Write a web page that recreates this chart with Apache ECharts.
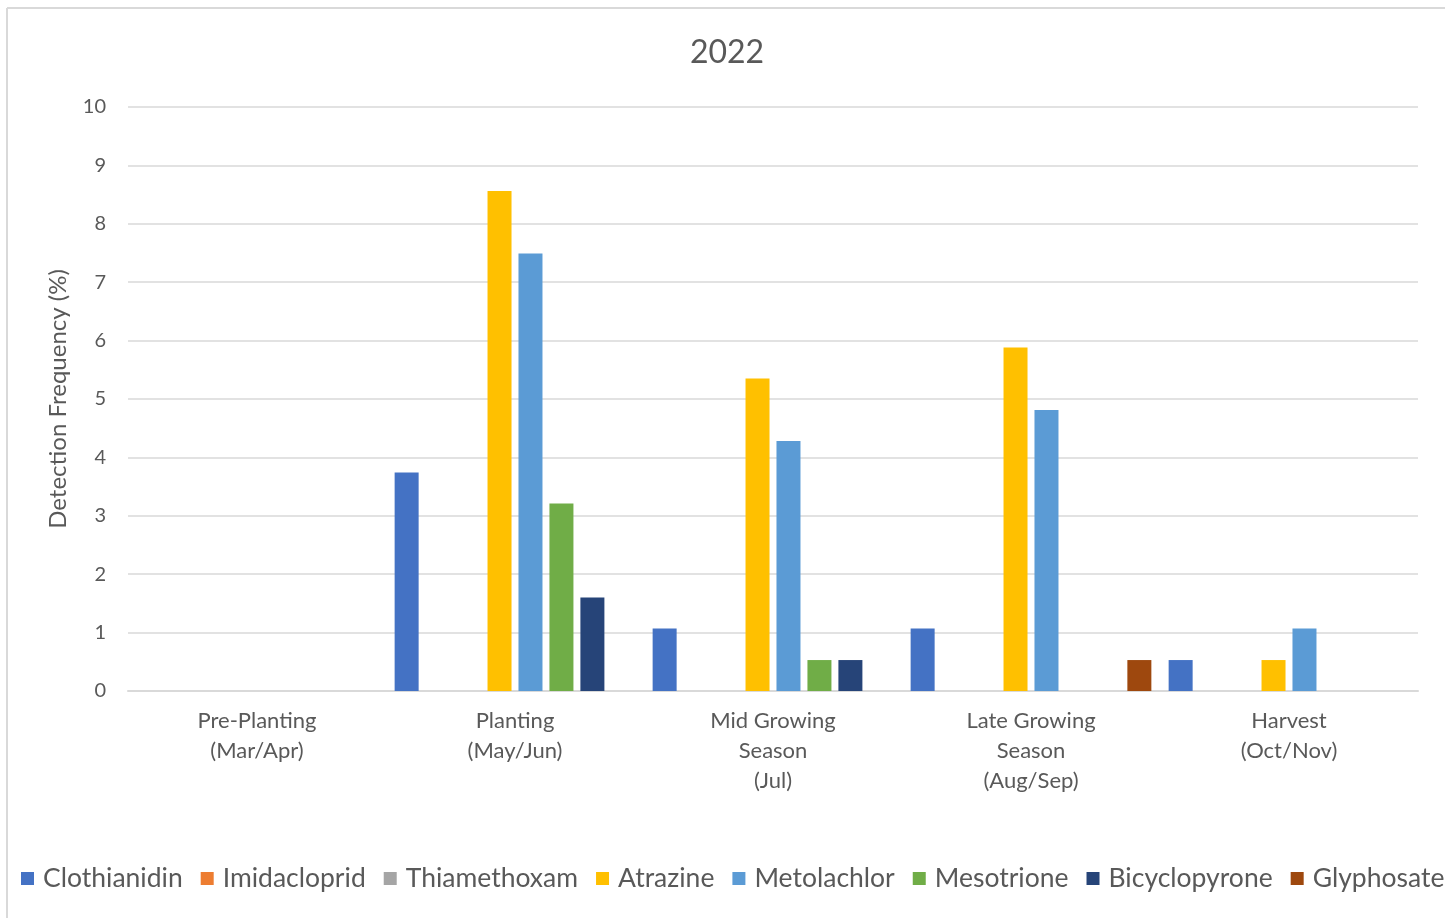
<!DOCTYPE html>
<html>
<head>
<meta charset="utf-8">
<script src="https://cdn.jsdelivr.net/npm/echarts@6/dist/echarts.min.js"></script>
<style>
  html, body { margin: 0; padding: 0; background: #fff; }
  #chart { width: 1445px; height: 918px; }
</style>
</head>
<body>
<div id="chart"></div>
<script>
// seasons along the x axis
var seasons = ['Pre-Planting\n(Mar/Apr)', 'Planting\n(May/Jun)', 'Mid Growing\nSeason\n(Jul)',
               'Late Growing\nSeason\n(Aug/Sep)', 'Harvest\n(Oct/Nov)'];

// detection frequency (%) per compound, one value per season
var clothianidin  = [0, 3.74, 1.07, 1.07, 0.53];
var imidacloprid  = [0, 0, 0, 0, 0];
var thiamethoxam  = [0, 0, 0, 0, 0];
var atrazine      = [0, 8.56, 5.35, 5.88, 0.53];
var metolachlor   = [0, 7.49, 4.28, 4.81, 1.07];
var mesotrione    = [0, 3.21, 0.53, 0, 0];
var bicyclopyrone = [0, 1.60, 0.53, 0, 0];
var glyphosate    = [0, 0, 0, 0.53, 0];

var names  = ['Clothianidin', 'Imidacloprid', 'Thiamethoxam', 'Atrazine', 'Metolachlor', 'Mesotrione', 'Bicyclopyrone', 'Glyphosate'];
var values = [clothianidin, imidacloprid, thiamethoxam, atrazine, metolachlor, mesotrione, bicyclopyrone, glyphosate];
var colors = ['#4472C4', '#ED7D31', '#A5A5A5', '#FFC000', '#5B9BD5', '#70AD47', '#264478', '#9E480E'];

var font = 'Lato, "Open Sans", sans-serif';
var txt = '#595959';

var chart = echarts.init(document.getElementById('chart'));

var series = names.map(function (n, i) {
    return {
        name: n,
        type: 'bar',
        data: values[i],
        barWidth: 24,
        barGap: '29%',
        itemStyle: { color: colors[i] }
    };
});

var option = {
    animation: false,
    color: colors,
    textStyle: { fontFamily: font },
    title: {
        text: '2022',
        left: 722,
        textAlign: 'center',
        top: 32,
        textStyle: { color: txt, fontSize: 32, fontWeight: 'normal', fontFamily: font }
    },
    graphic: [
        { type: 'line', shape: { x1: 7, y1: 8, x2: 1445, y2: 8 }, style: { stroke: '#d9d9d9', lineWidth: 2 } },
        { type: 'line', shape: { x1: 7, y1: 8, x2: 7, y2: 918 }, style: { stroke: '#d9d9d9', lineWidth: 2 } }
    ],
    legend: {
        bottom: 26,
        left: 21,
        width: 1440,
        padding: 0,
        itemWidth: 13,
        itemHeight: 13,
        itemGap: 18,
        icon: 'rect',
        textStyle: { color: txt, fontSize: 26.5, fontFamily: font, padding: [0, 0, 0, 4] }
    },
    grid: { left: 128, right: 27, top: 107, bottom: 227 },
    xAxis: {
        type: 'category',
        data: seasons,
        axisLine: { lineStyle: { color: '#d9d9d9', width: 2 } },
        axisTick: { show: false },
        axisLabel: {
            color: txt, fontSize: 22, lineHeight: 30, margin: 15,
            verticalAlign: 'top', fontFamily: font, interval: 0
        }
    },
    yAxis: {
        type: 'value',
        min: 0,
        max: 10,
        interval: 1,
        name: 'Detection Frequency (%)',
        nameLocation: 'middle',
        nameGap: 58,
        nameTextStyle: { color: txt, fontSize: 24, fontFamily: font },
        axisLine: { show: false },
        axisTick: { show: false },
        axisLabel: { color: txt, fontSize: 20, margin: 22, fontFamily: font },
        splitLine: { lineStyle: { color: '#d9d9d9', width: 1.5 } }
    },
    series: series
};

chart.setOption(option);
</script>
</body>
</html>
